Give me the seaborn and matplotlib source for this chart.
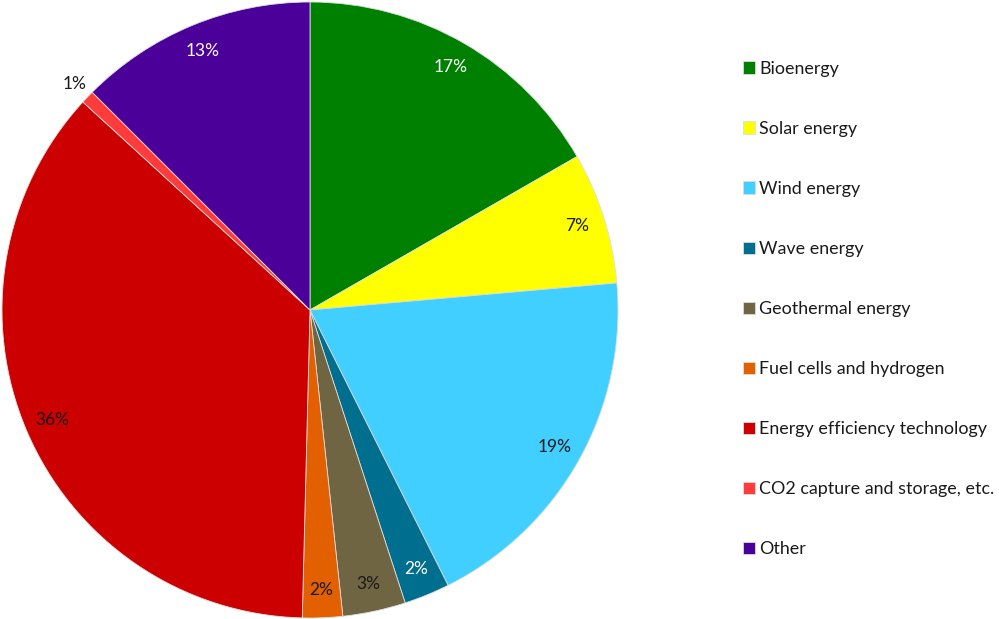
import numpy as np
import matplotlib
matplotlib.use('Agg')
import matplotlib.pyplot as plt
import seaborn as sns

# data
categories = ['Bioenergy', 'Solar energy', 'Wind energy', 'Wave energy',
              'Geothermal energy', 'Fuel cells and hydrogen',
              'Energy efficiency technology', 'CO2 capture and storage, etc.',
              'Other']
# slice sizes as drawn (measured angles, %)
shares = [16.7, 6.9, 19.0, 2.4, 3.3, 2.1, 36.4, 0.7, 12.5]
# percentages printed on the slices
label_pct = [17, 7, 19, 2, 3, 2, 36, 1, 13]

colors = ['#008000', '#FFFF00', '#40CFFF', '#006F8F', '#6F6542',
          '#E26000', '#CC0000', '#FF3B3B', '#4B0099']
label_colors = ['white', '#1a1a1a', '#1a1a1a', 'white', '#1a1a1a',
                '#1a1a1a', '#1a1a1a', '#1a1a1a', 'white']

sns.set_theme(style='white')
plt.rcParams['font.family'] = ['Lato', 'DejaVu Sans']

fig = plt.figure(figsize=(9.99, 6.19), dpi=100)
ax = fig.add_axes([2 / 999, 1 / 619, 616 / 999, 616 / 619])

wedges, _ = ax.pie(shares, colors=colors, startangle=90, counterclock=False,
                   radius=1.0,
                   wedgeprops=dict(edgecolor='#dcdcdc', linewidth=0.6))
ax.set_xlim(-1, 1)
ax.set_ylim(-1, 1)
ax.set_aspect('equal')
ax.axis('off')

# labels at the middle of each slice
cum = np.cumsum(shares)
mids = (cum - np.array(shares) / 2) / 100 * 2 * np.pi
for i, (p, th) in enumerate(zip(label_pct, mids)):
    r = 1.06 if p == 1 else 0.91
    ax.text(r * np.sin(th), r * np.cos(th), f'{p}%', ha='center', va='center',
            fontsize=12.5, color=label_colors[i])

leg = fig.legend(wedges, categories, loc='center left',
                 bbox_to_anchor=(743 / 999, 310 / 619), frameon=False,
                 borderpad=0, borderaxespad=0, handlelength=0.67,
                 handleheight=0.67, handletextpad=0.22, labelspacing=2.46,
                 fontsize=12.9)
for t in leg.get_texts():
    t.set_color('#1a1a1a')

fig.savefig('out.png', dpi=100)
